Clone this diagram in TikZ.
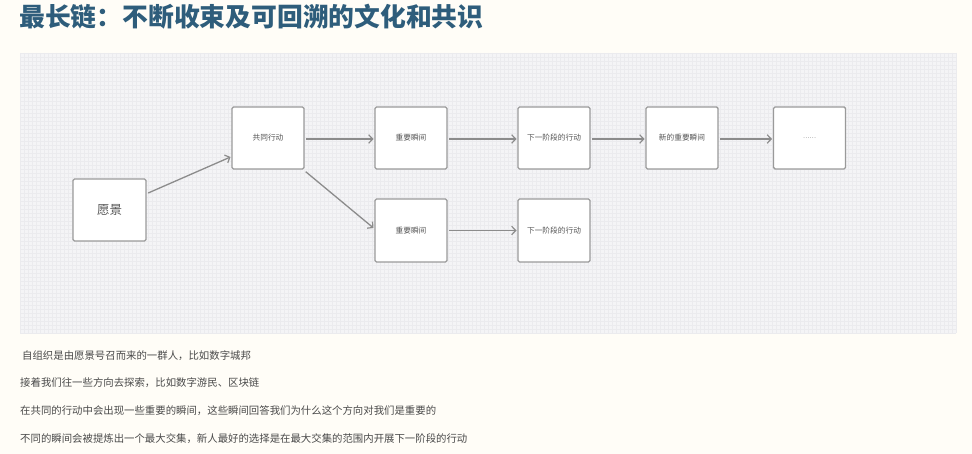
\documentclass[tikz,border=0pt]{standalone}
\usepackage{fontspec}
\setmainfont{Noto Sans CJK SC}
\newfontfamily\cjk{Noto Sans CJK SC}
\usetikzlibrary{arrows.meta,calc}
\definecolor{bgc}{HTML}{FFFDF7}
\definecolor{panelc}{HTML}{F4F4F6}
\definecolor{gridc}{HTML}{EBEBEE}
\definecolor{titlec}{HTML}{2E5D7B}
\definecolor{boxline}{HTML}{9A9A9A}
\definecolor{arrowc}{HTML}{8C8C8C}
\definecolor{boxtext}{HTML}{555555}
\definecolor{bodytext}{HTML}{4A4A4A}
\tikzset{
  stagebox/.style={draw=boxline, line width=1.4pt, fill=white, rounded corners=1.5pt,
    minimum width=72pt, minimum height=62pt, inner sep=0pt,
    font=\cjk\fontsize{7.7}{9}\selectfont, text=boxtext},
  flowarrow/.style={draw=arrowc, line width=1.3pt,
    -{Straight Barb[length=4pt,width=8.5pt,line width=1.2pt]}},
  bodyline/.style={anchor=west, inner sep=0pt, font=\cjk\fontsize{10.4}{12}\selectfont, text=bodytext}
}
\begin{document}
\begin{tikzpicture}[x=1pt,y=-1pt]
\useasboundingbox (0,0) rectangle (972,454);
\fill[bgc] (0,0) rectangle (972,454);
% panel
\fill[panelc] (20,53) rectangle (956,333);
\foreach \gx in {20,24,...,956} \draw[gridc, line width=0.3pt] (\gx,53) -- (\gx,333);
\foreach \gy in {53,57,...,333} \draw[gridc, line width=0.3pt] (20,\gy) -- (956,\gy);
% title
\node[anchor=west, inner sep=0pt, text=titlec, font=\cjk\bfseries\fontsize{25.8}{26}\selectfont] (title) at (19,17) {最长链：不断收束及可回溯的文化和共识};
% boxes
\node[stagebox, minimum width=73pt, font=\cjk\fontsize{12.5}{14}\selectfont] (v) at (109.5,210) {愿景};
\node[stagebox] (c) at (268,138) {共同行动};
\node[stagebox] (m1) at (411,138) {重要瞬间};
\node[stagebox] (n1) at (554,138) {下一阶段的行动};
\node[stagebox] (nm) at (682,138) {新的重要瞬间};
\node[stagebox, font=\cjk\fontsize{6}{7}\selectfont] (d) at (809.5,138) {……};
\node[stagebox, minimum height=63pt] (m2) at (411,230.5) {重要瞬间};
\node[stagebox, minimum height=63pt] (n2) at (554,230.5) {下一阶段的行动};
% arrows
\draw[flowarrow] ($(v.east)+(1.5,-17)$) -- ($(c.west)+(-0.8,19)$);
\draw[flowarrow] ($(c.east)+(1.5,1)$) -- ($(m1.west)+(-0.8,1)$);
\draw[flowarrow] ($(c.south east)+(1,2)$) -- ($(m2.west)+(-0.8,-2.5)$);
\draw[flowarrow] ($(m1.east)+(1.5,1)$) -- ($(n1.west)+(-0.8,1)$);
\draw[flowarrow] ($(n1.east)+(1.5,1)$) -- ($(nm.west)+(-0.8,1)$);
\draw[flowarrow] ($(nm.east)+(1.5,1)$) -- ($(d.west)+(-0.8,1)$);
\draw[flowarrow] ($(m2.east)+(1.5,0)$) -- ($(n2.west)+(-0.8,0)$);
% body text
\node[bodyline] (t1) at (22,356) {自组织是由愿景号召而来的一群人，比如数字城邦};
\node[bodyline] (t2) at (20,383) {接着我们往一些方向去探索，比如数字游民、区块链};
\node[bodyline] (t3) at (20,411) {在共同的行动中会出现一些重要的瞬间，这些瞬间回答我们为什么这个方向对我们是重要的};
\node[bodyline] (t4) at (20,439) {不同的瞬间会被提炼出一个最大交集，新人最好的选择是在最大交集的范围内开展下一阶段的行动};
\end{tikzpicture}
\end{document}
